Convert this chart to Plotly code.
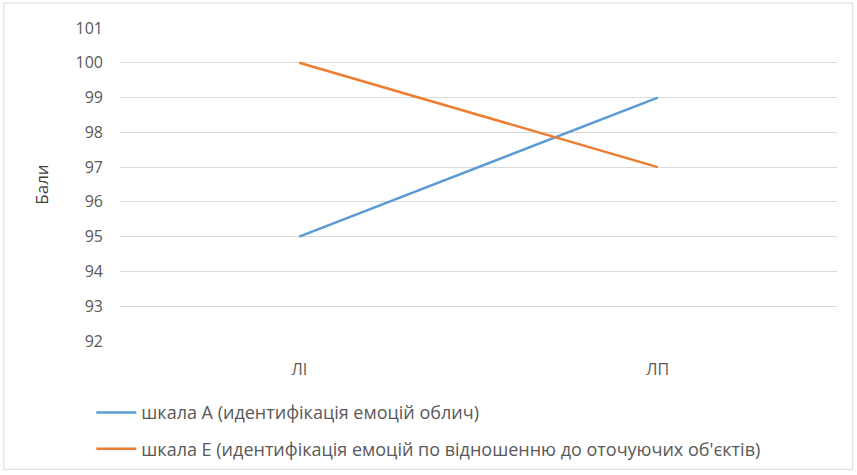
import plotly.graph_objects as go

categories = ["ЛІ", "ЛП"]
scale_a = [95, 99]
scale_e = [100, 97]
series_names = [
    "шкала А (идентифікація емоцій облич)",
    "шкала Е (идентифікація емоцій по відношенню до оточуючих об'єктів)",
]
y_ticks = list(range(92, 102))

fig = go.Figure()
fig.add_trace(go.Scatter(x=categories, y=scale_a, mode="lines", name=series_names[0],
                         line=dict(color="#5B9BD5", width=2.5), legendgroup="a"))
fig.add_trace(go.Scatter(x=categories, y=scale_e, mode="lines", name=series_names[1],
                         line=dict(color="#ED7D31", width=2.5), legendgroup="e"))

fig.update_layout(
    width=857, height=475,
    margin=dict(l=120, r=20, t=28, b=134, autoexpand=False),
    paper_bgcolor="white", plot_bgcolor="white",
    font=dict(family="Open Sans", size=16, color="#595959"),
    showlegend=True,
    legend=dict(x=-0.04, xanchor="left", y=0.17, yanchor="top", yref="container",
                orientation="v", tracegroupgap=10, itemwidth=40,
                font=dict(size=18, color="#595959"),
                bgcolor="rgba(0,0,0,0)"),
    xaxis=dict(type="category", range=[-0.5, 1.5], showgrid=False, showline=False,
               zeroline=False, ticks="", ticklabelstandoff=17,
               tickfont=dict(size=16, color="#595959")),
    yaxis=dict(range=[92, 101], tickvals=y_ticks, showgrid=True, gridcolor="#D9D9D9",
               gridwidth=1, zeroline=False, showline=False, ticks="",
               ticklabelstandoff=16,
               tickfont=dict(size=16, color="#595959"),
               title=dict(text="Бали", font=dict(size=17, color="#404040"), standoff=22)),
    shapes=[dict(type="rect", xref="paper", yref="paper", x0=-0.162, x1=1.022,
                 y0=-0.41, y1=1.08, line=dict(color="#D9D9D9", width=1))],
)

fig.write_html("out.html")
